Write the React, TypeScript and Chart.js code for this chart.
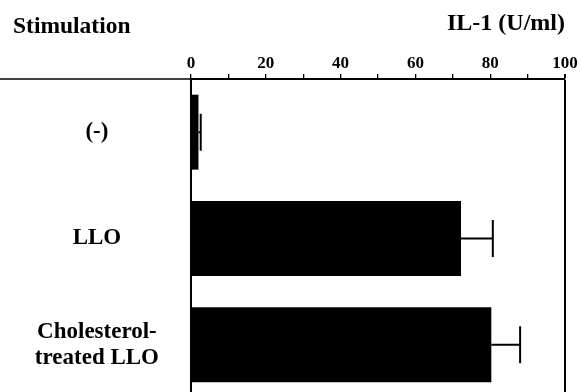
import React, { useEffect, useRef } from "react";
import { Chart, registerables } from "chart.js";

Chart.register(...registerables);

// Stimulation conditions and IL-1 activity (U/ml), mean with SD
const categories: (string | string[])[] = ["(-)", "LLO", ["Cholesterol-", "treated LLO"]];
const il1Values: number[] = [2, 72.2, 80.3];
const il1Errors: number[] = [0.6, 8.5, 7.7];
const xTicks: number[] = [0, 20, 40, 60, 80, 100];

const FONT = "'Liberation Serif', 'Times New Roman', serif";

// Draws the SD whiskers to the right of each bar
const errorBarPlugin = {
  id: "errorBars",
  afterDatasetsDraw(chart: any) {
    const { ctx, scales } = chart;
    const meta = chart.getDatasetMeta(0);
    ctx.save();
    ctx.strokeStyle = "#000";
    ctx.lineWidth = 2;
    meta.data.forEach((bar: any, i: number) => {
      const xEnd = scales.x.getPixelForValue(il1Values[i] + il1Errors[i]);
      const half = bar.height * 0.247;
      ctx.beginPath();
      ctx.moveTo(bar.x, bar.y);
      ctx.lineTo(xEnd, bar.y);
      ctx.moveTo(xEnd, bar.y - half);
      ctx.lineTo(xEnd, bar.y + half);
      ctx.stroke();
    });
    ctx.restore();
  },
};

// Column header on the left and the axis rule extending under it
const headerPlugin = {
  id: "header",
  afterDraw(chart: any) {
    const { ctx, chartArea } = chart;
    ctx.save();
    ctx.strokeStyle = "#000";
    ctx.lineWidth = 1.5;
    ctx.beginPath();
    ctx.moveTo(0, chartArea.top);
    ctx.lineTo(chartArea.left, chartArea.top);
    ctx.stroke();
    ctx.fillStyle = "#000";
    ctx.font = `bold 23.5px ${FONT}`;
    ctx.textAlign = "left";
    ctx.textBaseline = "alphabetic";
    ctx.fillText("Stimulation", 13, 33);
    ctx.restore();
  },
};

export default function App() {
  const canvasRef = useRef<HTMLCanvasElement | null>(null);

  useEffect(() => {
    if (!canvasRef.current) return;
    const chart = new Chart(canvasRef.current, {
      type: "bar",
      data: {
        labels: categories,
        datasets: [
          {
            data: il1Values,
            backgroundColor: "#000",
            borderWidth: 0,
            barPercentage: 0.705,
            categoryPercentage: 1,
          },
        ],
      },
      options: {
        indexAxis: "y",
        animation: false,
        responsive: true,
        maintainAspectRatio: false,
        layout: { padding: { top: 0, right: 16, bottom: 0, left: 0 } },
        plugins: {
          legend: { display: false },
          tooltip: { enabled: false },
        },
        scales: {
          x: {
            type: "linear",
            position: "top",
            min: 0,
            max: 100,
            afterBuildTicks: (scale: any) => {
              const t: { value: number }[] = [];
              for (let v = 0; v <= 100; v += 10) t.push({ value: v });
              scale.ticks = t;
            },
            afterFit: (scale: any) => {
              scale.height = 79;
            },
            ticks: {
              autoSkip: false,
              maxRotation: 0,
              padding: 0,
              color: "#000",
              font: { family: FONT, size: 17, weight: "bold" },
              callback: (v: any) => (xTicks.includes(Number(v)) ? String(v) : ""),
            },
            grid: {
              drawOnChartArea: true,
              color: (c: any) => (c.tick && c.tick.value === 100 ? "#000" : "rgba(0,0,0,0)"),
              lineWidth: (c: any) => (c.tick && c.tick.value === 100 ? 2 : 1.3),
              tickColor: "#000",
              tickLength: 5,
            },
            border: { display: true, color: "#000", width: 2 },
            title: {
              display: true,
              text: "IL-1 (U/ml)",
              align: "end",
              color: "#000",
              font: { family: FONT, size: 24, weight: "bold" },
              padding: { top: 9, bottom: 0 },
            },
          },
          y: {
            type: "category",
            afterFit: (scale: any) => {
              scale.width = 191;
              scale.paddingTop = 0;
              scale.paddingBottom = 0;
            },
            ticks: {
              color: "#000",
              crossAlign: "center",
              padding: 24,
              font: { family: FONT, size: 23, weight: "bold", lineHeight: 1.13 },
            },
            grid: { display: false },
            border: { display: true, color: "#000", width: 2 },
          },
        },
      },
      plugins: [errorBarPlugin, headerPlugin],
    } as any);
    return () => chart.destroy();
  }, []);

  return (
    <div style={{ position: "fixed", left: 0, top: 0, width: 581, height: 398, background: "#fff" }}>
      <canvas ref={canvasRef} style={{ display: "block" }} />
    </div>
  );
}
